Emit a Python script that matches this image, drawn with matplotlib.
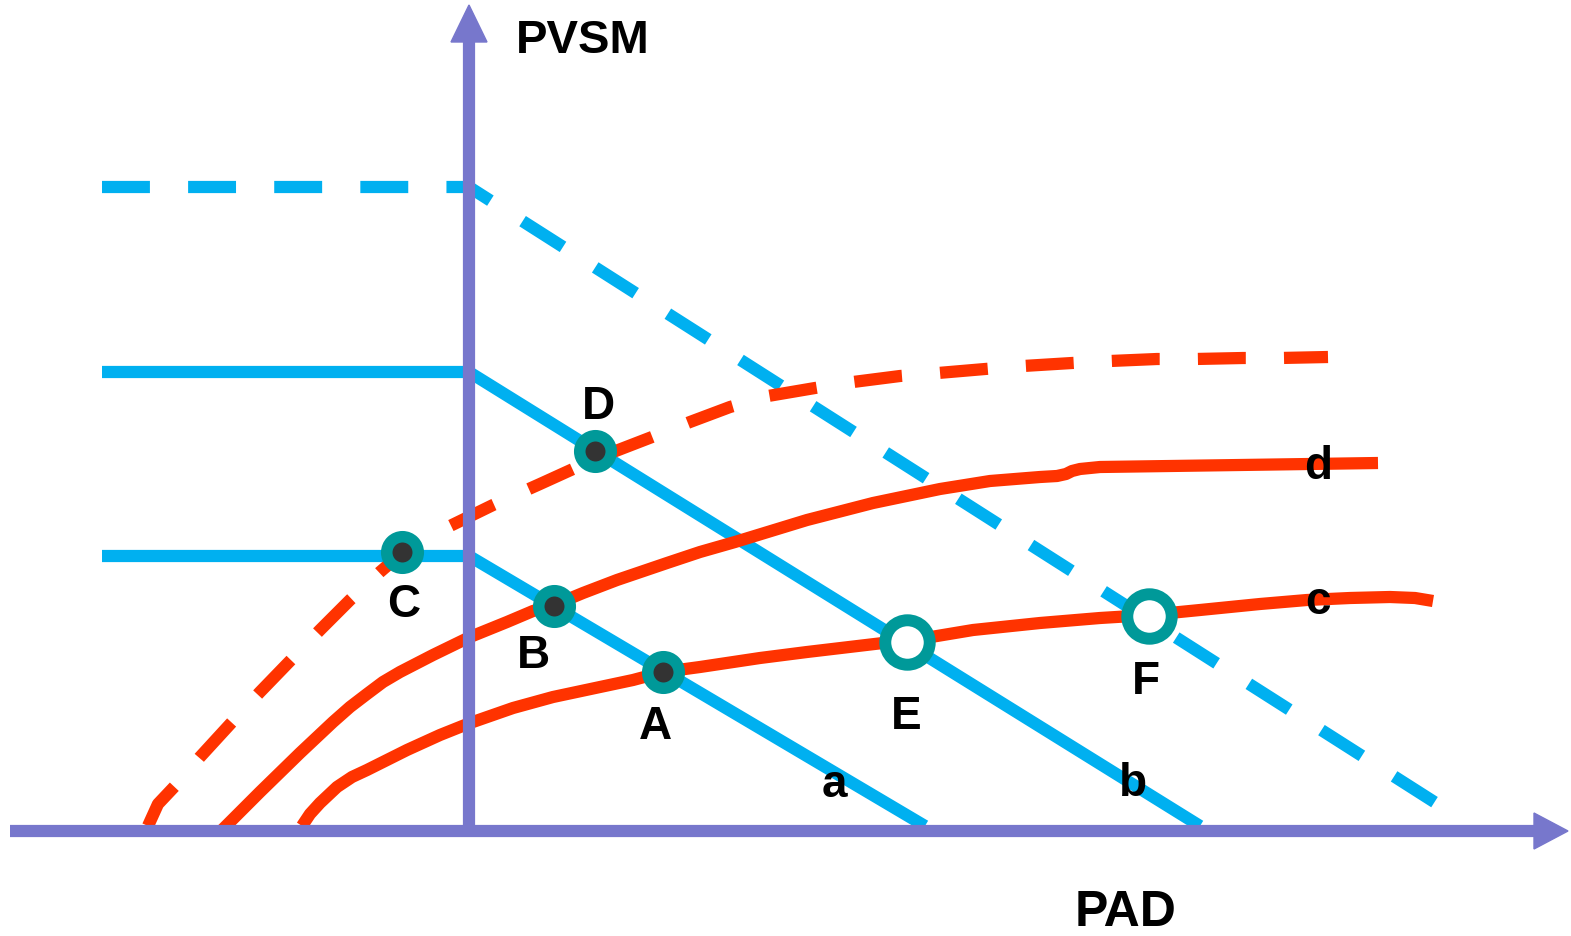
import matplotlib
matplotlib.use("Agg")
import matplotlib.pyplot as plt
from matplotlib.patches import Polygon

plt.rcParams["lines.scale_dashes"] = False
plt.rcParams["font.family"] = ["Liberation Sans", "DejaVu Sans"]

W, H = 1571, 936

BLUE = "#00B0F0"
RED = "#FF3300"
AXIS = "#7777CC"
TEAL = "#009999"
DARK = "#333333"

# ---------------------------------------------------------------------------
# Geometry of the schematic (picture coordinates, y grows downwards)
# ---------------------------------------------------------------------------

# axes: origin of PVSM / PAD
x_axis_x = [10, 1540]
x_axis_y = [831, 831]
y_axis_x = [469, 469]
y_axis_y = [831, 38]
x_arrow_head = [(1534, 813), (1568, 831), (1534, 849)]
y_arrow_head = [(451, 42), (469, 5), (487, 42)]

# blue demand-type lines (a, b solid; dashed upper)
line_a_x = [102, 469, 925]
line_a_y = [556, 556, 826]
line_b_x = [102, 469, 1200]
line_b_y = [372, 372, 826]
line_dash_x = [102, 469, 1450]
line_dash_y = [187, 187, 812]

# red supply-type curves
curve_c_x = [302, 310, 320, 337, 352, 367, 387, 407, 440, 470, 513, 553, 600,
             633, 663, 700, 760, 807, 883, 907, 973, 1040, 1100, 1149, 1200,
             1260, 1307, 1350, 1390, 1415, 1433]
curve_c_y = [826, 814, 803, 787, 777, 770, 760, 750, 735, 723, 708, 697, 687,
             680, 672, 667, 658, 652, 643, 641, 630, 623, 618, 615, 610,
             604, 600, 598, 597, 598, 601]

curve_d_x = [222, 260, 300, 333, 350, 367, 383, 400, 433, 470, 507, 533, 554,
             583, 617, 667, 700, 735, 807, 873, 940, 990, 1040, 1057, 1066,
             1072, 1080, 1100, 1240, 1378]
curve_d_y = [830, 792, 753, 722, 707, 694, 682, 672, 655, 637, 622, 611, 605,
             593, 580, 563, 552, 542, 520, 503, 489, 481, 477, 476, 474,
             471, 469, 467, 465, 463]

curve_dash_x = [148, 158, 175, 200, 233, 260, 290, 320, 350, 380, 402, 450,
                493, 540, 573, 595, 652, 690, 730, 768, 815, 853, 900, 938,
                985, 1023, 1072, 1110, 1157, 1195, 1243, 1280, 1328]
curve_dash_y = [826, 804, 786, 757, 721, 692, 661, 630, 600, 572, 553, 526,
                505, 484, 469, 459, 437, 422, 407, 396, 388, 382, 376, 373,
                369, 366, 363, 361, 359, 359, 358, 358, 357]

# equilibrium points
solid_pts = ["A", "B", "C", "D"]
solid_x = [663, 554, 402, 595]
solid_y = [672, 606, 552, 451]
open_pts = ["E", "F"]
open_x = [907, 1149]
open_y = [642, 616]

# labels (centre x, baseline y)
point_labels = ["A", "B", "C", "D", "E", "F"]
point_lab_x = [655, 533, 404, 598, 906, 1146]
point_lab_y = [739, 668, 617, 419, 729, 694]
curve_labels = ["a", "b", "c", "d"]
curve_lab_x = [834, 1133, 1318, 1318]
curve_lab_y = [797, 796, 614, 479]
axis_labels = ["PVSM", "PAD"]
axis_lab_x = [583, 1126]
axis_lab_y = [53, 926]

LW = 8.8
DASH = (0, (34.5, 27.5))

# ---------------------------------------------------------------------------

fig = plt.figure(figsize=(W / 100, H / 100), dpi=100)
ax = fig.add_axes([0, 0, 1, 1])
ax.set_xlim(0, W)
ax.set_ylim(H, 0)
ax.axis("off")

common = dict(linewidth=LW, solid_capstyle="butt", dash_capstyle="butt",
              solid_joinstyle="round", dash_joinstyle="round", zorder=2)

ax.plot(line_a_x, line_a_y, color=BLUE, **common)
ax.plot(line_b_x, line_b_y, color=BLUE, **common)
ax.plot(line_dash_x, line_dash_y, color=BLUE, linestyle=DASH, **common)

ax.plot(curve_c_x, curve_c_y, color=RED, **common)
ax.plot(curve_d_x, curve_d_y, color=RED, **common)
ax.plot(curve_dash_x, curve_dash_y, color=RED, linestyle=DASH, **common)

# axes with arrow heads
ax.plot(x_axis_x, x_axis_y, color=AXIS, linewidth=LW, solid_capstyle="butt", zorder=3)
ax.plot(y_axis_x, y_axis_y, color=AXIS, linewidth=LW, solid_capstyle="butt", zorder=3)
ax.add_patch(Polygon(x_arrow_head, closed=True, color=AXIS, zorder=3))
ax.add_patch(Polygon(y_arrow_head, closed=True, color=AXIS, zorder=3))

# points
ax.plot(solid_x, solid_y, linestyle="none", marker="o", markersize=22.7,
        markerfacecolor=DARK, markeredgecolor=TEAL, markeredgewidth=8.3, zorder=4)
ax.plot(open_x, open_y, linestyle="none", marker="o", markersize=32,
        markerfacecolor="white", markeredgecolor=TEAL, markeredgewidth=8.6, zorder=4)

txt = dict(ha="center", va="baseline", fontweight="bold", color="black", zorder=5)
for s, x, y in zip(point_labels, point_lab_x, point_lab_y):
    ax.text(x, y, s, fontsize=33, **txt)
for s, x, y in zip(curve_labels, curve_lab_x, curve_lab_y):
    ax.text(x, y, s, fontsize=33, **txt)
ax.text(axis_lab_x[0], axis_lab_y[0], axis_labels[0], fontsize=34, **txt)
ax.text(axis_lab_x[1], axis_lab_y[1], axis_labels[1], fontsize=36, **txt)

fig.savefig("out.png", dpi=100)
plt.close(fig)
